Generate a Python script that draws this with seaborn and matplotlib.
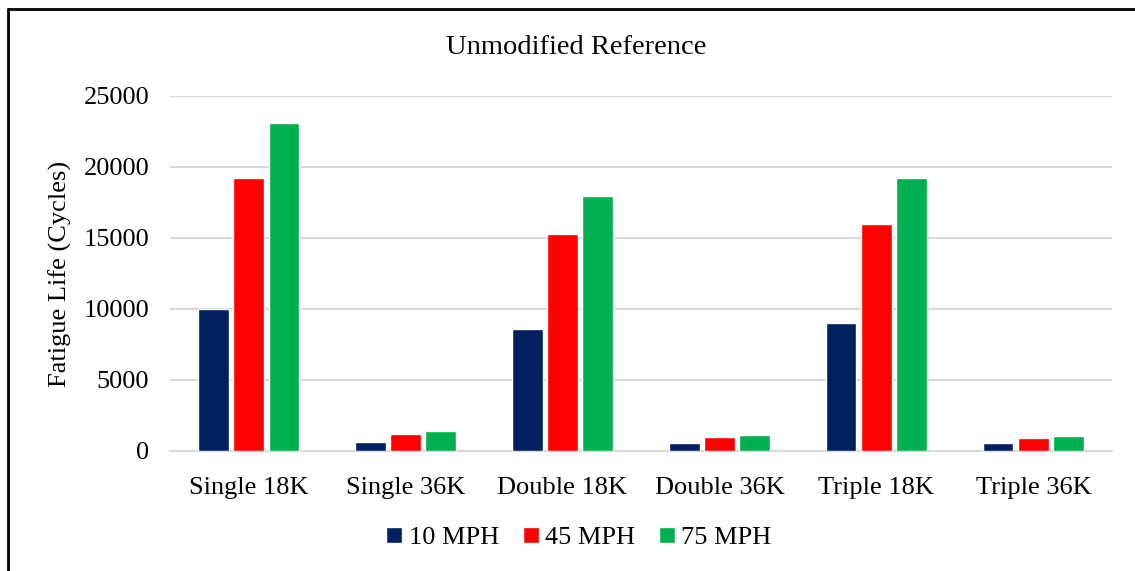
import pandas as pd
import matplotlib
matplotlib.use('Agg')
import matplotlib.pyplot as plt
import seaborn as sns
from matplotlib.lines import Line2D

# values
configs = ['Single 18K', 'Single 36K', 'Double 18K', 'Double 36K', 'Triple 18K', 'Triple 36K']
speeds = ['10 MPH', '45 MPH', '75 MPH']
mph_10 = [10000, 610, 8600, 590, 9000, 540]
mph_45 = [19200, 1180, 15300, 970, 16000, 900]
mph_75 = [23100, 1410, 17950, 1130, 19200, 1085]
colors = ['#002060', '#FF0000', '#00B050']

df = pd.DataFrame({
    'config': configs * 3,
    'speed': [s for s in speeds for _ in configs],
    'cycles': mph_10 + mph_45 + mph_75,
})

sns.set_style('white')
plt.rcParams['font.family'] = ['Liberation Serif', 'DejaVu Serif']
plt.rcParams['text.color'] = 'black'
plt.rcParams['axes.labelcolor'] = 'black'
plt.rcParams['xtick.color'] = 'black'
plt.rcParams['ytick.color'] = 'black'

fig = plt.figure(figsize=(11.35, 5.71), dpi=100)
ax = fig.add_axes([0.1498, 0.2102, 0.8299, 0.6217])

sns.barplot(data=df, x='config', y='cycles', hue='speed', palette=colors,
            order=configs, hue_order=speeds, errorbar=None, saturation=1,
            width=0.67, gap=0.14, ax=ax, zorder=3)

ax.set_ylim(0, 25000)
ax.set_xlim(-0.5, 5.5)
ax.set_yticks(range(0, 25001, 5000))
ax.yaxis.grid(True, color='#D9D9D9', linewidth=1.5, zorder=0)
ax.xaxis.grid(False)
for side in ['top', 'right', 'left']:
    ax.spines[side].set_visible(False)
ax.spines['bottom'].set_color('#D9D9D9')
ax.spines['bottom'].set_linewidth(1.5)
ax.tick_params(axis='both', length=0, labelsize=19)
ax.tick_params(axis='y', pad=15)
ax.tick_params(axis='x', pad=19)
ax.set_xlabel('')
ax.set_ylabel('Fatigue Life (Cycles)', fontsize=19, labelpad=8)

ax.legend(loc='center', bbox_to_anchor=(579 / 1135, 1 - 538 / 571),
          bbox_transform=fig.transFigure, ncol=3, frameon=False,
          fontsize=19, handlelength=0.6, handleheight=0.6,
          handletextpad=0.25, columnspacing=0.9)

fig.text(576 / 1135, 1 - 48 / 571, 'Unmodified Reference', ha='center',
         va='center', fontsize=20.5)

# chart frame (only left and top edges fall inside the picture)
fig.add_artist(Line2D([8 / 1135, 8 / 1135], [0, 1 - 9 / 571], color='black',
                      linewidth=2, transform=fig.transFigure))
fig.add_artist(Line2D([8 / 1135, 1], [1 - 9 / 571, 1 - 9 / 571], color='black',
                      linewidth=2, transform=fig.transFigure))

fig.savefig('out.png', dpi=100, facecolor='white')
